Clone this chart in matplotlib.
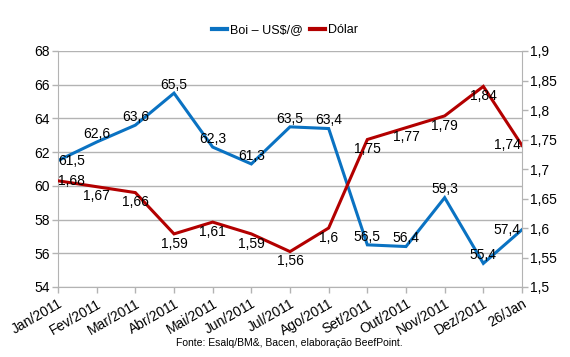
import matplotlib
matplotlib.use("Agg")
import matplotlib.pyplot as plt

plt.rcParams['font.family'] = ['Liberation Sans', 'DejaVu Sans']

# data
months = ['Jan/2011', 'Fev/2011', 'Mar/2011', 'Abr/2011', 'Mai/2011', 'Jun/2011',
          'Jul/2011', 'Ago/2011', 'Set/2011', 'Out/2011', 'Nov/2011', 'Dez/2011', '26/Jan']
boi = [61.5, 62.6, 63.6, 65.5, 62.3, 61.3, 63.5, 63.4, 56.5, 56.4, 59.3, 55.4, 57.4]
dolar = [1.68, 1.67, 1.66, 1.59, 1.61, 1.59, 1.56, 1.60, 1.75, 1.77, 1.79, 1.84, 1.74]

blue = '#0a72c2'
red = '#b30000'
gray = '#b3b3b3'

fig = plt.figure(figsize=(5.7, 3.57), dpi=100)
ax = fig.add_axes([58 / 570, 1 - 287 / 357, 464 / 570, 236 / 357])
ax2 = ax.twinx()

x = list(range(len(months)))
ax.plot(x, boi, color=blue, lw=2.2, solid_joinstyle='miter')
ax2.plot(x, dolar, color=red, lw=2.2, solid_joinstyle='miter')

ax.set_xlim(0, len(months) - 1)
ax.set_ylim(54, 68)
ax.set_yticks(range(54, 69, 2))
ax2.set_ylim(1.5, 1.9)
ax2.set_yticks([1.5, 1.55, 1.6, 1.65, 1.7, 1.75, 1.8, 1.85, 1.9])
ax2.set_yticklabels(['1,5', '1,55', '1,6', '1,65', '1,7', '1,75', '1,8', '1,85', '1,9'])

ax.set_xticks(x)
ax.set_xticklabels(months, rotation=30, ha='right', rotation_mode='anchor')
ax.grid(axis='y', color=gray, lw=1)
ax.set_axisbelow(True)

for a in (ax, ax2):
    for s in a.spines.values():
        s.set_visible(False)
    a.tick_params(colors=gray, labelcolor='black', labelsize=10, length=4, width=1)
ax.spines['left'].set_visible(True)
ax.spines['bottom'].set_visible(True)
ax2.spines['right'].set_visible(True)
for s in (ax.spines['left'], ax.spines['bottom'], ax2.spines['right']):
    s.set_color(gray)
ax.tick_params(axis='x', pad=3)
ax.tick_params(axis='y', pad=2)
ax2.tick_params(axis='y', pad=2)

def fmt(v):
    return ('%g' % v).replace('.', ',')

n = len(months)
for i in range(n):
    # boi labels above, dollar labels below; edge labels beside the point
    if i == 0:
        off_b, off_d, ha = (0, 0), (0, 0), 'left'
    elif i == n - 1:
        off_b, off_d, ha = (-1, 0), (-1, 0), 'right'
    else:
        off_b, off_d, ha = (0, 6), (0, -7), 'center'
    ax2.annotate(fmt(boi[i]), (i, boi[i]), xycoords=ax.transData, xytext=off_b,
                 textcoords='offset points', ha=ha, va='center', fontsize=10, zorder=5)
    ax2.annotate(fmt(dolar[i]), (i, dolar[i]), xytext=off_d,
                 textcoords='offset points', ha=ha, va='center', fontsize=10, zorder=5)

h1, = ax.plot([], [], color=blue, lw=3)
h2, = ax.plot([], [], color=red, lw=3)
fig.legend([h1, h2], ['Boi \u2013 US$/@', 'D\u00f3lar'], loc='center', ncol=2,
           bbox_to_anchor=(0.5, 1 - 30 / 357), frameon=False, fontsize=9,
           handlelength=1.2, handletextpad=0.2, columnspacing=0.6)

fig.text(289 / 570, 1 - 343 / 357, 'Fonte: Esalq/BM&, Bacen, elabora\u00e7\u00e3o BeefPoint.',
         ha='center', va='center', fontsize=7.5)

fig.savefig('out.png', dpi=100)
